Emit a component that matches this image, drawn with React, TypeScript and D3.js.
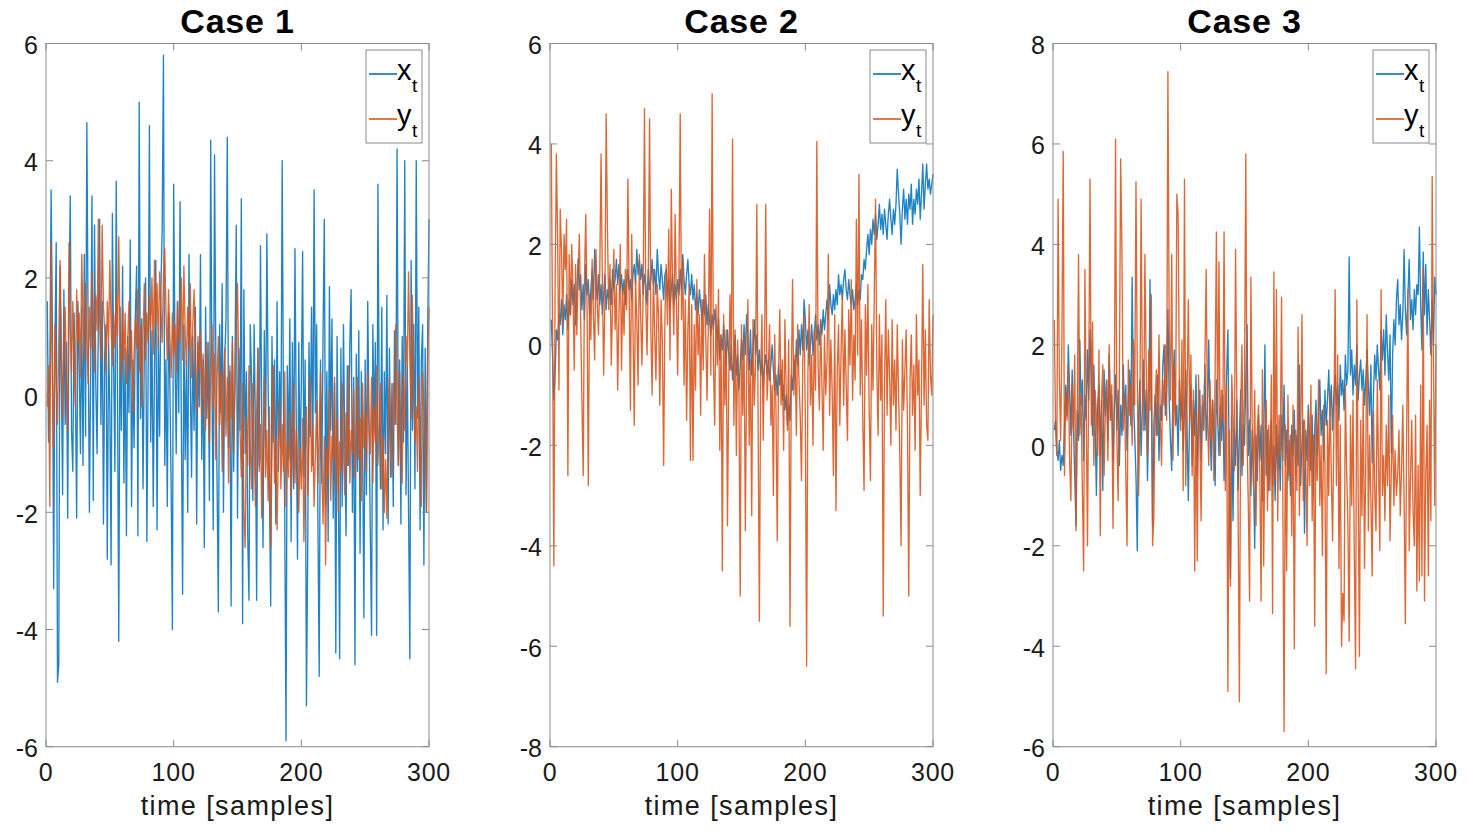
import React from "react";
import * as d3 from "d3";

// ---------- DATA (samples t = 1..300) ----------
const titles = ["Case 1", "Case 2", "Case 3"];
const yDomains: [number, number][] = [[-6, 6], [-8, 6], [-6, 8]];
const xTicks = [0, 100, 200, 300];
const seriesNames = ["x", "y"];

const case1X = [
  1.6, -0.8, 0.4, 3.5, 1.2, -3.3, 0.9, 2.6, -4.9, -4.6,
  2.2, 0.3, -1.7, 1.8, -0.5, 0.9, -2.1, 1.5, 3.4, -0.6,
  -1.3, 1.4, 0.2, -2.1, 1.6, 0.5, -1.0, 1.5, -1.2, 2.4,
  -0.7, 4.65, 1.1, -2.0, 0.4, 3.4, -1.8, 2.9, 0.2, -1.0,
  1.3, 3.0, -0.5, 1.6, -2.2, 0.7, 1.2, -2.8, 0.9, -0.2,
  -2.9, 3.1, 0.5, -1.3, 3.65, 0.1, -4.2, 1.5, -0.6, 2.2,
  -1.5, 0.8, -2.4, 1.0, -0.3, 2.65, -1.9, 0.6, -0.9, 1.4,
  2.2, -2.4, 5.0, -0.4, 1.3, -1.6, 0.7, 2.0, -2.5, 0.3,
  4.6, -0.8, 1.1, -1.9, 0.5, 2.3, -2.3, 1.0, -0.7, 1.8,
  2.85, 5.8, -1.2, 0.6, -1.9, 1.4, 0.2, -1.5, -4.0, 3.6,
  0.8, -1.0, 1.6, -0.3, 3.3, -0.5, -3.4, 1.2, -1.1, 0.6,
  -2.0, 2.4, 0.3, -1.4, 1.0, -0.6, 1.5, -2.2, 0.9, -0.2,
  2.4, -1.1, 0.6, -2.6, 1.5, -0.4, 0.9, -1.8, 4.35, 0.2,
  -2.3, 4.1, 0.7, -1.5, -3.7, 1.2, -0.3, 1.9, -2.0, 0.6,
  1.3, 4.4, -0.9, 0.4, -3.6, 1.0, -1.3, 0.5, 2.9, -2.1,
  0.8, -0.6, 3.35, -3.9, 1.8, -1.0, 0.4, -2.4, -3.5, 1.2,
  0.3, -1.8, 1.2, -0.5, -3.5, 0.8, -1.2, 2.55, -0.4, -2.6,
  1.1, -0.9, 2.75, 0.2, -1.6, -3.6, 1.0, -0.8, 0.6, -2.2,
  1.6, -1.3, 0.4, -0.9, 4.0, -0.2, -2.0, -5.9, 0.5, -1.1,
  1.3, -2.5, 0.9, -1.6, 2.5, -0.4, -2.8, 0.9, -1.3, 0.2,
  2.45, -1.4, 0.6, -5.3, -2.6, 0.9, -0.7, 1.5, -1.2, 3.5,
  -0.3, 1.2, -2.2, -4.8, 0.6, -1.5, 1.0, 3.0, -1.9, 0.4,
  -2.5, 1.85, -0.6, 1.3, -2.1, 0.2, -4.4, 1.0, -1.5, -4.5,
  0.8, -1.9, 1.2, -0.8, -2.4, 0.5, -1.2, 0.9, 1.8, -2.0,
  0.3, -4.6, 0.7, -1.3, 1.1, -2.7, 0.4, -0.9, -3.8, 0.6,
  -1.7, 1.6, -0.4, -2.3, -4.1, 1.2, -0.6, 0.9, -4.1, 3.6,
  -0.2, -1.6, 1.5, -2.3, 0.4, -1.0, 1.7, -2.2, 0.8, -1.4,
  0.2, -1.9, 1.1, -0.5, 4.2, -1.2, 0.6, -2.2, 1.0, -0.8,
  4.0, -1.7, 0.5, -2.0, -4.5, 2.3, -0.6, 1.2, -1.6, 4.0,
  -0.4, 1.5, -2.3, 0.6, 1.2, -2.9, 0.8, -2.0, 1.2, 3.0,
];

const case1Y = [
  -0.2, 0.5, -1.9, 2.6, 0.3, -0.9, 1.2, 0.2, -0.5, 0.9,
  2.3, 1.0, -0.4, 0.8, 1.5, 0.2, -0.6, 2.6, 1.1, 0.4,
  1.6, 0.5, -0.2, 1.8, 0.9, 1.4, 0.3, 2.4, 1.3, 0.6,
  1.9, 1.0, 0.2, 1.5, 0.8, 2.1, 1.2, 0.4, 1.7, 1.1,
  3.0, 1.3, 0.6, 2.9, 1.5, 1.1, 0.4, 1.6, 0.9, 2.3,
  1.2, 0.5, 1.4, 0.8, 1.7, 1.0, 2.7, 0.9, 0.3, 1.5,
  0.6, 1.4, 0.2, 0.9, 1.6, 0.4, 1.1, -0.3, 0.7, 1.3,
  0.8, 1.8, 0.4, 1.2, -0.2, 1.0, 1.9, 0.6, 1.4, 0.9,
  1.7, 1.1, 2.0, 0.7, 2.3, 1.2, 1.9, 0.8, 2.1, 1.5,
  0.9, 2.0, 2.5, 1.4, 0.6, 1.8, 1.0, 0.3, 1.4, 0.7,
  1.2, 0.4, 1.6, 0.9, 1.3, 2.0, 0.6, 2.2, 1.1, 0.5,
  1.5, 0.8, 1.9, 0.3, 1.2, 1.8, 0.5, -0.3, 1.0, 0.4,
  1.1, -0.4, 0.7, 0.2, -0.6, 0.9, 0.1, -0.8, 0.6, 1.2,
  -0.2, 0.7, -1.1, 0.3, 1.0, -0.5, 0.4, -1.3, 0.2, 0.8,
  -0.7, 0.3, -1.5, 0.5, -0.4, 0.9, -1.0, 0.1, 1.2, 1.9,
  0.4, -0.6, -1.4, 0.2, -2.0, -2.6, -0.4, -1.2, 0.5, -0.9,
  -1.6, 0.2, -0.7, -1.9, -0.3, 0.8, -1.3, -0.5, -2.1, -0.8,
  0.3, -1.4, -0.6, -1.8, -0.2, -2.6, -1.0, 0.5, -1.5, -0.7,
  -2.3, -0.9, -0.1, -1.6, -0.5, -1.3, 0.4, -1.9, -0.8, -1.4,
  -0.3, -1.7, -1.0, 0.2, -1.5, -0.6, -1.2, -2.0, -0.9, -1.6,
  -0.4, -2.5, -1.1, -0.2, -1.7, -0.8, 0.3, -1.3, -0.5, -1.9,
  -1.0, -0.1, -1.5, -0.6, 0.4, -1.2, -2.2, -0.7, -2.9, -0.9,
  -1.4, 0.1, -1.8, -0.7, -1.1, 0.3, -1.6, -0.4, -2.0, -0.8,
  -1.3, 0.2, -0.9, -1.7, -0.3, -1.2, 0.5, -1.5, -0.6, -1.0,
  0.1, -1.4, -0.7, 0.3, -1.1, -0.4, -1.8, 0.2, -0.9, -0.3,
  -1.3, 0.4, -0.6, -1.0, 0.3, -1.5, -0.2, -0.8, 0.5, -1.2,
  -0.4, 0.2, -1.6, -0.7, -2.0, -1.1, -2.1, -0.5, 0.3, -0.9,
  -1.4, 0.2, -0.5, 1.2, -0.3, -1.2, 0.4, -0.8, -1.5, 0.3,
  -0.6, 1.0, 0.5, 2.1, 0.6, -0.4, 1.7, 0.2, -0.8, -0.2,
  -1.3, 0.3, -0.5, -1.9, 0.4, -0.2, -0.7, -2.0, 0.6, 1.5,
];

const case2X = [
  0.5, -0.2, -1.1, -0.6, 0.3, 0.1, 0.6, 0.4, 0.9, 0.2,
  0.8, 0.5, 1.0, 0.3, 0.9, 0.6, 1.3, 0.8, 1.2, 0.4,
  1.0, 1.7, 1.1, 1.4, 0.7, 1.2, 0.5, 1.6, 1.0, 1.3,
  0.6, 1.1, 1.5, 0.9, 1.9, 1.2, 0.9, 1.4, 0.8, 1.2,
  0.6, 1.0, 1.4, 0.7, 1.1, 0.9, 1.3, 0.8, 1.5, 1.1,
  1.3, 1.7, 1.2, 1.6, 1.1, 1.4, 1.0, 1.3, 0.8, 1.2,
  1.5, 1.1, 1.3, 0.9, 1.4, 1.6, 1.2, 1.9, 1.4, 1.7,
  1.3, 1.6, 1.0, 1.4, 1.2, 0.8, 1.5, 1.1, 1.3, 1.7,
  1.2, 1.5, 1.0, 1.9, 1.4, 1.1, 1.6, 1.3, 0.9, 1.4,
  1.5, 1.0, 1.3, 0.7, 1.1, 1.4, 0.8, 1.2, 0.9, 1.3,
  1.0, 1.5, 1.1, 1.8, 1.3, 1.0, 1.4, 1.7, 1.2, 1.0,
  1.4, 0.9, 1.2, 0.7, 1.0, 0.6, 1.1, 0.8, 0.5, 0.9,
  0.6, 1.0, 0.4, 0.8, 0.5, 0.2, 0.6, 0.3, 0.7, 0.4,
  0.1, 0.5, -0.3, 0.2, -0.1, 0.4, 0.1, -0.4, 0.3, -0.2,
  -0.5, 0.0, -0.7, -0.3, 0.2, -0.6, -0.2, -0.9, -0.4, 0.1,
  -0.3, 0.4, -0.2, 0.6, 0.1, -0.5, 0.3, -0.6, -0.1, 0.5,
  -0.2, 0.2, -0.5, -0.1, -0.6, -0.3, -0.8, -0.4, -0.2, -0.6,
  -0.3, -0.7, -0.4, 0.0, -0.5, -0.9, -0.6, -1.0, -0.4, -0.8,
  -0.5, -1.1, -0.8, -1.3, -1.0, -1.6, -1.2, -1.5, -0.6, -0.9,
  -0.3, -0.7, 0.1, -0.4, 0.3, -0.2, 0.4, -0.1, 0.9, 0.5,
  -0.1, 0.3, -0.4, 0.0, 0.4, -0.2, 0.2, 0.6, 0.1, 0.4,
  0.0, 0.5, 0.2, 0.7, 0.3, 0.6, 0.9, 0.5, 1.2, 0.8,
  0.6, 1.0, 0.7, 1.1, 0.8, 1.4, 1.0, 1.2, 0.9, 1.3,
  1.5, 1.1, 0.9, 1.3, 1.0, 0.8, 1.1, 0.7, 0.9, 1.2,
  0.8, 1.1, 0.9, 1.4, 1.3, 1.7, 1.5, 1.9, 2.2, 1.8,
  2.3, 2.0, 2.5, 2.2, 2.6, 2.1, 2.4, 2.8, 2.3, 2.6,
  2.2, 2.7, 2.4, 2.1, 2.6, 2.9, 2.5, 2.2, 2.7, 2.4,
  2.8, 3.5, 3.0, 2.6, 2.0, 2.7, 3.1, 2.5, 2.9, 2.4,
  3.0, 2.7, 3.2, 2.4, 2.9, 2.6, 3.1, 2.8, 3.3, 2.5,
  3.0, 3.6, 2.7, 3.2, 3.6, 3.1, 3.3, 3.0, 3.2, 3.4,
];

const case2Y = [
  4.0, 0.3, -4.4, 1.2, 3.8, 2.1, -0.9, 2.7, 1.9, 0.4,
  2.2, 1.5, 2.5, -2.6, 1.8, 0.6, 2.0, 1.1, -0.5, 1.6,
  0.2, 1.4, 2.2, 0.5, -1.1, -2.6, 1.3, 2.6, 0.8, -2.8,
  1.0, 0.1, 1.7, 0.6, -0.3, 1.9, 0.8, 0.2, 1.5, 3.8,
  1.3, -0.6, 0.9, 4.6, 2.3, 0.7, 1.6, -0.4, 0.8, 1.9,
  0.3, 1.2, -0.9, 0.6, 2.0, -0.5, 1.1, 0.2, 1.5, 0.7,
  3.3, 1.0, -1.3, 2.2, 0.4, -1.6, 1.3, 0.5, -0.8, 1.8,
  0.6, -0.4, 1.1, 4.7, 0.9, -0.2, 1.4, 4.5, 0.3, -1.0,
  1.5, 0.2, -0.7, 1.2, 0.6, -1.2, 0.9, 0.1, -2.4, 0.5,
  1.6, 0.4, 2.3, -0.3, 3.1, 1.2, 0.2, 2.6, 0.9, -0.6,
  1.4, 4.6, 0.5, 1.7, -0.8, 0.9, -1.5, 0.3, 1.2, -2.3,
  0.8, -2.3, 0.4, -0.9, 1.3, -0.2, 0.6, -1.4, 0.9, -0.5,
  1.8, 0.2, -1.1, 0.4, 2.7, -0.6, 5.0, -0.3, -1.6, 0.8,
  -0.4, 1.1, -2.1, 0.2, -4.5, 0.6, -1.2, 0.3, -3.6, -0.8,
  1.0, -0.5, 4.1, -1.6, 0.3, -2.2, 0.1, -1.0, -5.0, 0.4,
  -1.4, 0.2, -3.7, -0.6, 0.9, -2.0, -0.3, -3.4, 0.5, -1.2,
  -0.4, 2.8, -1.5, -5.5, -0.7, 0.6, -1.9, -0.2, 2.8, -1.1,
  -0.5, 0.4, -1.6, -0.8, -3.0, 0.2, -1.3, -3.9, -0.6, 0.7,
  -1.2, -0.3, -2.1, 0.5, -0.9, -1.7, 0.1, -5.6, -0.8, 1.3,
  -1.0, -0.2, -1.8, 0.4, -0.7, -1.4, -2.7, -0.3, 0.6, -1.5,
  -6.4, -0.6, 0.8, -1.2, -0.2, -2.0, 0.3, -0.9, 4.05, -0.4,
  -1.3, 0.5, -0.8, -2.1, 0.2, -1.0, -0.3, 1.8, -1.4, 0.1,
  -0.9, -2.6, 0.6, -3.3, -0.5, 0.4, -1.6, -0.1, 1.0, -1.2,
  0.3, -0.8, -1.9, 0.7, -0.4, 1.3, -1.1, 0.2, -0.7, 2.5,
  -0.2, 3.4, -1.0, 0.5, -1.5, -2.9, 0.8, -0.6, 1.2, -1.3,
  -2.7, 0.4, -0.9, 1.0, 2.9, -0.5, -1.8, 0.6, -1.1, 0.2,
  -5.4, -0.8, 0.9, -1.4, 0.3, -0.6, -2.0, 0.5, -1.2, -0.3,
  -1.7, 0.4, -0.9, -2.2, -4.0, 0.1, -1.3, -0.5, 0.3, -1.6,
  -5.0, -0.7, 0.2, -1.4, -0.4, -2.1, 0.6, -1.0, -0.3, -3.0,
  -0.8, 1.6, -1.2, 0.3, -1.6, -1.9, 0.9, -0.6, -1.0, 0.6,
];

const case3X = [
  0.3, 0.5, -0.1, -0.3, 0.1, -0.5, -0.2, -0.4, 0.4, 1.2,
  0.6, 2.0, 1.1, 0.2, 1.5, 0.4, -0.6, -1.6, 0.7, 0.1,
  2.1, 0.8, 1.3, -0.3, 1.0, 0.5, 1.9, 0.9, 2.3, 1.4,
  0.2, 1.6, 0.4, -1.0, 0.8, 1.2, -0.2, 0.9, -0.9, 1.5,
  0.6, 1.3, 0.1, 1.8, 0.5, 1.0, -0.3, 0.7, 1.4, 0.3,
  1.1, -0.4, 0.8, 0.2, 1.6, 0.6, 1.2, -0.1, 0.9, 1.5,
  0.4, 3.35, 1.0, 0.2, -0.6, -2.1, 0.5, 1.3, -0.2, 0.8,
  1.7, 0.3, 1.1, -0.7, 0.6, 3.3, 1.2, -1.6, 0.4, 1.0,
  0.2, 1.4, -0.3, 0.8, 0.5, 1.6, 2.0, 0.6, 1.1, 2.7,
  0.9, 0.1, -0.5, 1.2, 1.9, 0.4, 0.8, -0.2, 1.3, 0.5,
  1.0, -0.1, 0.7, 1.5, 0.3, -1.1, 0.6, 1.2, -0.4, 0.9,
  0.2, 1.4, -0.6, 0.5, 1.1, -0.3, 0.8, 0.3, 1.6, 0.1,
  0.7, 2.1, 0.4, -0.5, 0.9, 0.2, -0.8, 1.3, 0.5, -0.2,
  0.8, 0.1, 1.0, -0.7, 0.4, 1.4, 2.3, -0.3, -2.65, 0.6,
  -1.5, 0.3, -0.4, 0.9, -0.9, 0.2, 1.1, -0.6, 0.4, 0.0,
  1.3, 2.4, -0.2, 0.5, -1.0, 0.3, -0.5, -2.05, 0.2, -0.7,
  0.6, -0.3, 0.4, -1.1, 0.1, 2.0, -0.6, 0.3, -0.9, -0.2,
  0.5, -0.8, 0.0, -1.1, 0.4, -0.5, 0.2, -0.9, 0.6, -0.3,
  1.2, -0.4, 0.3, -0.7, 0.1, -1.0, 0.4, -0.2, 0.7, -0.6,
  0.2, -0.4, 1.6, -0.8, 0.0, 0.5, -1.75, 0.3, -0.3, 0.8,
  0.1, -0.5, 0.6, -1.0, 0.3, 0.9, -0.2, 0.5, 1.3, 0.2,
  0.7, -0.3, 1.1, 0.4, 0.9, 1.5, 0.6, 1.2, 0.3, 1.0,
  1.4, 0.8, 1.2, 0.5, 1.6, 1.0, 1.3, 0.7, 1.8, 1.2,
  1.5, 3.75, 1.4, 1.9, 1.0, 1.6, 1.2, 2.0, 0.9, 1.4,
  1.7, 1.1, 1.5, 0.8, 1.3, 1.9, 1.2, 0.6, 1.6, -0.35,
  1.0, 1.8, 1.3, 2.0, 1.5, 1.1, 2.3, 1.7, 2.3, 1.4,
  2.6, 1.9, 1.3, 2.2, -0.15, 1.8, 2.5, 2.0, 2.9, 3.3,
  2.4, 2.8, 2.1, 2.6, 3.9, 2.7, 2.2, 3.0, 3.7, 2.5,
  2.9, 2.3, 3.1, 2.6, 3.2, 3.0, 4.35, 2.8, 1.9, 3.85,
  2.6, 3.6, 2.2, 3.1, 2.5, 1.8, 2.9, 2.0, 3.35, 3.0,
];

const case3Y = [
  2.5, 0.4, -0.2, 4.9, 1.3, 0.1, 2.2, 5.85, -0.6, 1.0,
  0.5, 1.6, -0.3, -1.1, 1.2, 0.3, 1.8, -1.7, 0.6, 3.8,
  0.2, 1.0, -0.9, -2.5, 3.5, 0.8, -2.0, 1.4, 5.3, 0.4,
  2.45, -0.4, 1.1, 0.6, -0.2, 1.9, -1.8, 0.9, 1.6, -0.6,
  0.7, 1.3, -0.3, 2.0, 0.5, 1.2, -1.65, 0.8, 6.1, 0.2,
  -1.1, 1.4, 5.7, 3.9, 0.3, 1.0, -0.5, -2.0, 1.7, 0.6,
  1.2, 0.0, 2.1, 0.8, 5.25, 1.5, -1.0, 0.4, 4.9, 1.1,
  0.3, 3.8, 1.6, -0.2, 1.9, 0.7, 3.0, -2.0, -1.4, 0.9,
  1.5, 0.2, 2.2, 0.6, -0.4, 1.3, 0.8, 2.0, 0.5, 7.44,
  2.4, 0.9, 3.8, -0.3, 1.6, 0.4, 5.0, 4.6, 1.2, 0.3,
  2.1, -0.9, 5.3, -0.8, 1.0, 2.9, 0.5, 1.8, -0.6, 1.1,
  -2.5, 0.7, -2.3, 1.4, 0.2, -1.5, 1.0, 0.3, 1.7, 3.5,
  0.6, -0.4, 1.3, 0.1, 0.9, -0.7, 1.5, 4.25, 0.4, 3.65,
  -0.2, 1.1, 0.5, 4.25, -0.9, 1.2, -4.9, 0.3, -2.8, 1.4,
  0.6, -0.5, 3.9, 0.9, -1.3, -5.1, 0.7, 2.0, -0.4, 1.2,
  5.8, 0.1, -1.2, -3.1, 3.35, 0.5, -0.8, 1.1, -1.6, 0.3,
  0.8, -0.6, -3.1, 1.5, -2.4, 0.2, 0.9, -1.3, 0.4, -0.9,
  1.4, -3.35, 3.45, -0.7, 3.1, -1.5, 0.6, -0.2, 2.95, -1.0,
  -5.7, 0.4, -2.5, 1.0, -0.6, 0.2, -1.8, 0.8, -4.05, 0.3,
  -0.9, 2.35, -1.4, 0.1, 2.6, -1.1, 0.5, -0.3, -2.0, 0.7,
  -0.8, 1.2, -1.5, 0.2, -3.6, 0.6, -0.7, 1.3, -1.2, 0.0,
  -2.2, 0.8, -0.4, -4.55, 0.5, -1.0, 1.1, -0.6, -1.9, 0.3,
  3.1, -0.8, 1.8, -2.45, 0.4, -4.0, -2.95, -3.5, 1.2, -0.5,
  -1.6, -3.9, 0.6, -1.2, 0.9, -2.2, -4.45, 2.9, -0.7, -4.2,
  0.5, -1.4, 1.1, -2.45, -0.3, 2.6, -1.7, 0.2, -1.1, -2.6,
  0.7, -0.9, -1.7, 1.3, -0.4, -2.1, 3.1, -1.0, -0.2, -1.5,
  0.4, -0.8, 1.0, -1.9, -0.5, 0.6, -1.2, -0.1, -1.0, -0.6,
  0.3, -1.4, -0.5, 0.8, -1.1, -3.55, 0.2, 3.1, -2.1, -0.7,
  0.5, -1.3, -2.0, 0.6, -2.9, -0.4, -2.7, 1.2, -2.6, 3.55,
  -3.1, -0.6, 0.4, -2.6, 0.9, -1.5, 5.35, 1.8, -1.2, 2.0,
];

const casesData = [
  [case1X, case1Y],
  [case2X, case2Y],
  [case3X, case3Y],
];

// ---------- LAYOUT / STYLE ----------
const W = 1469;
const H = 831;
const panelLefts = [46, 550, 1053];
const panelWidth = 383;
const top = 43.5;
const bottom = 746.7;
const colors = ["#0072BD", "#D95319"];
const FONT = "'Liberation Sans', Arial, Helvetica, sans-serif";
const axisColor = "#8a8a8a";
const textColor = "#1a1a1a";

function Panel({ idx }: { idx: number }) {
  const left = panelLefts[idx];
  const right = left + panelWidth;
  const x = d3.scaleLinear().domain([0, 300]).range([left, right]);
  const y = d3.scaleLinear().domain(yDomains[idx]).range([bottom, top]);
  const yTicks = d3.range(yDomains[idx][0], yDomains[idx][1] + 0.001, 2);
  const line = d3
    .line<number>()
    .x((_, i) => x(i + 1))
    .y((v) => y(v));
  const tl = 7;
  const cx = (left + right) / 2;
  const lgW = 56;
  const lgH = 93;
  const lgX = right - 7 - lgW;
  const lgY = 50;

  return (
    <g>
      <text
        x={cx}
        y={33}
        textAnchor="middle"
        fontFamily={FONT}
        fontWeight="bold"
        fontSize={34}
        letterSpacing={0.8}
        fill="#000"
      >
        {titles[idx]}
      </text>
      {casesData[idx].map((s, si) => (
        <path
          key={si}
          d={line(s) || ""}
          fill="none"
          stroke={colors[si]}
          strokeWidth={1.35}
          strokeOpacity={0.88}
          strokeLinejoin="round"
        />
      ))}
      <rect
        x={left}
        y={top}
        width={right - left}
        height={bottom - top}
        fill="none"
        stroke={axisColor}
        strokeWidth={1}
      />
      {xTicks.map((t) => (
        <g key={"x" + t}>
          <line x1={x(t)} x2={x(t)} y1={bottom} y2={bottom - tl} stroke={axisColor} />
          <line x1={x(t)} x2={x(t)} y1={top} y2={top + tl} stroke={axisColor} />
          <text
            x={x(t)}
            y={781}
            textAnchor="middle"
            fontFamily={FONT}
            fontSize={25}
            letterSpacing={0.8}
            fill={textColor}
          >
            {t}
          </text>
        </g>
      ))}
      {yTicks.map((t) => (
        <g key={"y" + t}>
          <line x1={left} x2={left + tl} y1={y(t)} y2={y(t)} stroke={axisColor} />
          <line x1={right} x2={right - tl} y1={y(t)} y2={y(t)} stroke={axisColor} />
          <text
            x={left - 8}
            y={y(t) + 10.5}
            textAnchor="end"
            fontFamily={FONT}
            fontSize={25}
            fill={textColor}
          >
            {t}
          </text>
        </g>
      ))}
      <text
        x={cx}
        y={815}
        textAnchor="middle"
        fontFamily={FONT}
        fontSize={27}
        letterSpacing={1.4}
        fill={textColor}
      >
        time [samples]
      </text>
      <rect x={lgX} y={lgY} width={lgW} height={lgH} fill="#fff" stroke={axisColor} strokeWidth={1} />
      {seriesNames.map((n, si) => {
        const ly = lgY + 24 + si * 45;
        return (
          <g key={n}>
            <line x1={lgX + 3} x2={lgX + 31} y1={ly} y2={ly} stroke={colors[si]} strokeWidth={1.6} />
            <text x={lgX + 31} y={ly + 6} fontFamily={FONT} fontSize={29} fill="#000">
              {n}
            </text>
            <text x={lgX + 46} y={ly + 18} fontFamily={FONT} fontSize={19} fill="#000">
              t
            </text>
          </g>
        );
      })}
    </g>
  );
}

export default function App() {
  return (
    <svg
      width={W}
      height={H}
      viewBox={`0 0 ${W} ${H}`}
      style={{ position: "absolute", left: 0, top: 0, background: "#fff" }}
    >
      <rect x={0} y={0} width={W} height={H} fill="#fff" />
      {[0, 1, 2].map((i) => (
        <Panel key={i} idx={i} />
      ))}
    </svg>
  );
}
